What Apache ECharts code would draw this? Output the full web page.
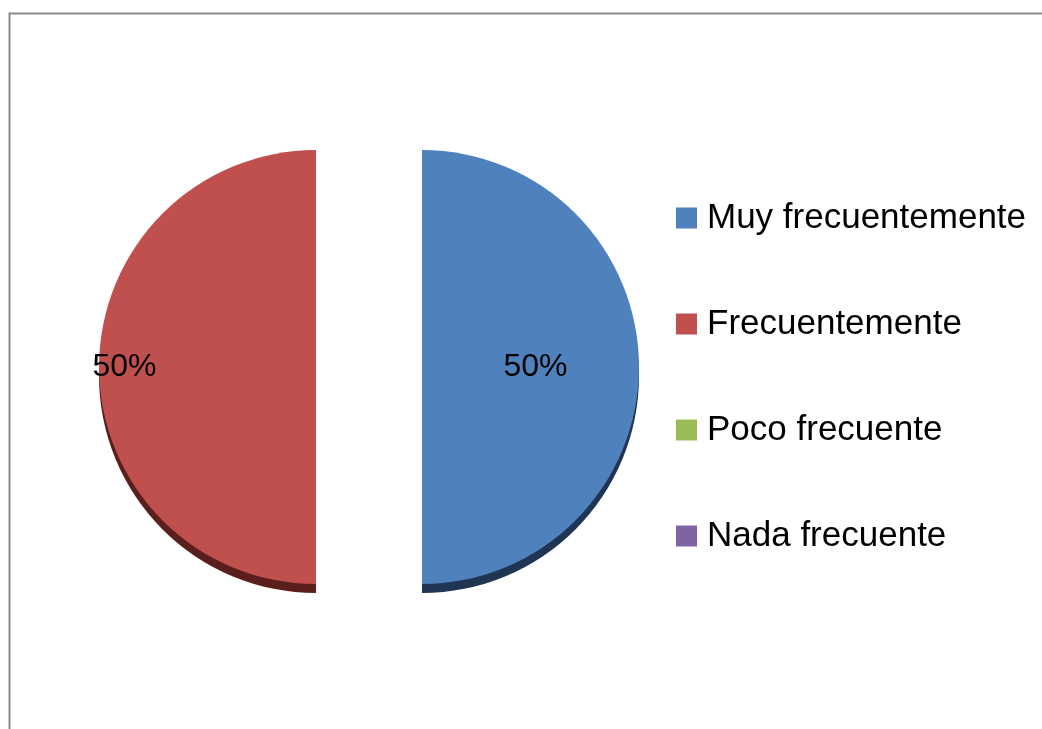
<!DOCTYPE html>
<html>
<head>
<meta charset="utf-8">
<script src="https://cdn.jsdelivr.net/npm/echarts@6/dist/echarts.min.js"></script>
<style>
  html, body { margin: 0; padding: 0; background: #fff; }
  #chart { width: 1042px; height: 729px; }
</style>
</head>
<body>
<div id="chart"></div>
<script>
// datos del gráfico
const categories = ['Muy frecuentemente', 'Frecuentemente', 'Poco frecuente', 'Nada frecuente']
const values = [50, 50, 0, 0]
const colors = ['#4F81BD', '#C0504D', '#9BBB59', '#8064A2']
const sideColors = ['#1F3553', '#5A1E1D', '#4A5A2A', '#3C2F4D']

const chart = echarts.init(document.getElementById('chart'))

const center = [369, 367]
const radius = 217
const offset = 53

const option = {
  animation: false,
  graphic: [
    {
      type: 'polyline',
      shape: { points: [[9.5, 729], [9.5, 13.5], [1042, 13.5]] },
      style: { stroke: '#8a8a8a', lineWidth: 2, fill: null }
    }
  ],
  legend: {
    orient: 'vertical',
    left: 676,
    top: 198,
    padding: 0,
    data: categories,
    icon: 'rect',
    itemWidth: 21,
    itemHeight: 21,
    itemGap: 66,
    selectedMode: false,
    textStyle: {
      fontFamily: 'Liberation Sans',
      fontSize: 35,
      color: '#000',
      lineHeight: 40,
      padding: [0, 0, 0, 5]
    }
  },
  series: [
    // borde 3D (sombra inferior)
    {
      type: 'pie',
      silent: true,
      z: 1,
      center: [center[0], center[1] + 9],
      radius: radius,
      startAngle: 90,
      selectedMode: 'multiple',
      selectedOffset: offset,
      label: { show: false },
      labelLine: { show: false },
      data: values.map((v, i) => ({
        value: v,
        name: '_' + i,
        selected: true,
        itemStyle: { color: sideColors[i] }
      }))
    },
    {
      type: 'pie',
      z: 2,
      center: center,
      radius: radius,
      startAngle: 90,
      selectedMode: 'multiple',
      selectedOffset: offset,
      label: {
        show: true,
        position: 'inside',
        formatter: p => (p.value > 0 ? p.percent + '%' : ''),
        fontFamily: 'Liberation Sans',
        fontSize: 32,
        color: '#000'
      },
      labelLine: { show: false },
      data: values.map((v, i) => ({
        value: v,
        name: categories[i],
        selected: true,
        itemStyle: { color: colors[i] },
        label: i === 1 ? { padding: [0, 160, 0, 0] } : { padding: [0, 0, 0, 4] }
      }))
    }
  ]
}

chart.setOption(option)
</script>
</body>
</html>
